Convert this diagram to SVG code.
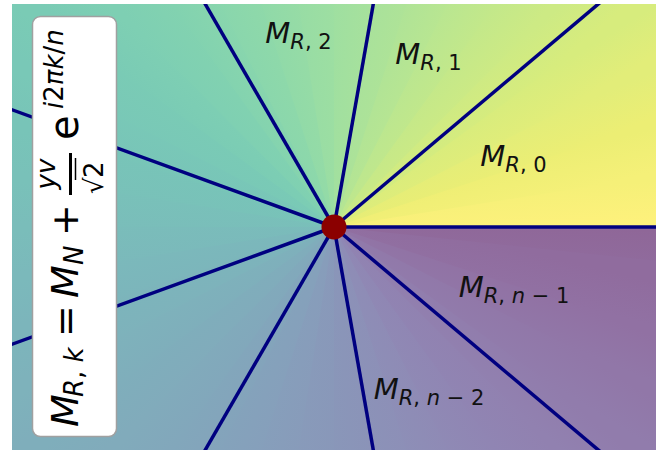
<svg xmlns="http://www.w3.org/2000/svg" width="668" height="450" viewBox="0 0 668 450">
<defs>
<clipPath id="plot"><rect x="12" y="4" width="644" height="446"/></clipPath>
<path id="w" d="M334,227 L934,227 L920.9,102.3 Z"/>
<linearGradient id="g0" gradientUnits="userSpaceOnUse" x1="604" y1="227" x2="600.7" y2="184.8"><stop offset="0" stop-color="#fef17c"/><stop offset="1" stop-color="#f5f078"/></linearGradient>
<linearGradient id="g1" gradientUnits="userSpaceOnUse" x1="604" y1="227" x2="600.7" y2="184.8"><stop offset="0" stop-color="#f5f078"/><stop offset="1" stop-color="#ecee74"/></linearGradient>
<linearGradient id="g2" gradientUnits="userSpaceOnUse" x1="604" y1="227" x2="600.7" y2="184.8"><stop offset="0" stop-color="#ecee74"/><stop offset="1" stop-color="#e2ed79"/></linearGradient>
<linearGradient id="g3" gradientUnits="userSpaceOnUse" x1="604" y1="227" x2="600.7" y2="184.8"><stop offset="0" stop-color="#e2ed79"/><stop offset="1" stop-color="#d7ec7d"/></linearGradient>
<linearGradient id="g4" gradientUnits="userSpaceOnUse" x1="604" y1="227" x2="600.7" y2="184.8"><stop offset="0" stop-color="#d7ec7d"/><stop offset="1" stop-color="#cdea84"/></linearGradient>
<linearGradient id="g5" gradientUnits="userSpaceOnUse" x1="604" y1="227" x2="600.7" y2="184.8"><stop offset="0" stop-color="#cdea84"/><stop offset="1" stop-color="#c3e88a"/></linearGradient>
<linearGradient id="g6" gradientUnits="userSpaceOnUse" x1="604" y1="227" x2="600.7" y2="184.8"><stop offset="0" stop-color="#c3e88a"/><stop offset="1" stop-color="#b9e691"/></linearGradient>
<linearGradient id="g7" gradientUnits="userSpaceOnUse" x1="604" y1="227" x2="600.7" y2="184.8"><stop offset="0" stop-color="#b9e691"/><stop offset="1" stop-color="#afe397"/></linearGradient>
<linearGradient id="g8" gradientUnits="userSpaceOnUse" x1="604" y1="227" x2="600.7" y2="184.8"><stop offset="0" stop-color="#afe397"/><stop offset="1" stop-color="#a7e19c"/></linearGradient>
<linearGradient id="g9" gradientUnits="userSpaceOnUse" x1="604" y1="227" x2="600.7" y2="184.8"><stop offset="0" stop-color="#a7e19c"/><stop offset="1" stop-color="#9edfa1"/></linearGradient>
<linearGradient id="g10" gradientUnits="userSpaceOnUse" x1="604" y1="227" x2="600.7" y2="184.8"><stop offset="0" stop-color="#9edfa1"/><stop offset="1" stop-color="#97dca5"/></linearGradient>
<linearGradient id="g11" gradientUnits="userSpaceOnUse" x1="604" y1="227" x2="600.7" y2="184.8"><stop offset="0" stop-color="#97dca5"/><stop offset="1" stop-color="#8fd9a9"/></linearGradient>
<linearGradient id="g12" gradientUnits="userSpaceOnUse" x1="604" y1="227" x2="600.7" y2="184.8"><stop offset="0" stop-color="#8fd9a9"/><stop offset="1" stop-color="#89d6ad"/></linearGradient>
<linearGradient id="g13" gradientUnits="userSpaceOnUse" x1="604" y1="227" x2="600.7" y2="184.8"><stop offset="0" stop-color="#89d6ad"/><stop offset="1" stop-color="#82d2b0"/></linearGradient>
<linearGradient id="g14" gradientUnits="userSpaceOnUse" x1="604" y1="227" x2="600.7" y2="184.8"><stop offset="0" stop-color="#82d2b0"/><stop offset="1" stop-color="#7ecfb3"/></linearGradient>
<linearGradient id="g15" gradientUnits="userSpaceOnUse" x1="604" y1="227" x2="600.7" y2="184.8"><stop offset="0" stop-color="#7ecfb3"/><stop offset="1" stop-color="#7acbb5"/></linearGradient>
<linearGradient id="g16" gradientUnits="userSpaceOnUse" x1="604" y1="227" x2="600.7" y2="184.8"><stop offset="0" stop-color="#7acbb5"/><stop offset="1" stop-color="#79c8b7"/></linearGradient>
<linearGradient id="g17" gradientUnits="userSpaceOnUse" x1="604" y1="227" x2="600.7" y2="184.8"><stop offset="0" stop-color="#79c8b7"/><stop offset="1" stop-color="#78c4b8"/></linearGradient>
<linearGradient id="g18" gradientUnits="userSpaceOnUse" x1="604" y1="227" x2="600.7" y2="184.8"><stop offset="0" stop-color="#78c4b8"/><stop offset="1" stop-color="#79c1b9"/></linearGradient>
<linearGradient id="g19" gradientUnits="userSpaceOnUse" x1="604" y1="227" x2="600.7" y2="184.8"><stop offset="0" stop-color="#79c1b9"/><stop offset="1" stop-color="#7abdba"/></linearGradient>
<linearGradient id="g20" gradientUnits="userSpaceOnUse" x1="604" y1="227" x2="600.7" y2="184.8"><stop offset="0" stop-color="#7abdba"/><stop offset="1" stop-color="#7bb9bb"/></linearGradient>
<linearGradient id="g21" gradientUnits="userSpaceOnUse" x1="604" y1="227" x2="600.7" y2="184.8"><stop offset="0" stop-color="#7bb9bb"/><stop offset="1" stop-color="#7cb5bb"/></linearGradient>
<linearGradient id="g22" gradientUnits="userSpaceOnUse" x1="604" y1="227" x2="600.7" y2="184.8"><stop offset="0" stop-color="#7cb5bb"/><stop offset="1" stop-color="#7eb2bb"/></linearGradient>
<linearGradient id="g23" gradientUnits="userSpaceOnUse" x1="604" y1="227" x2="600.7" y2="184.8"><stop offset="0" stop-color="#7eb2bb"/><stop offset="1" stop-color="#7faebb"/></linearGradient>
<linearGradient id="g24" gradientUnits="userSpaceOnUse" x1="604" y1="227" x2="600.7" y2="184.8"><stop offset="0" stop-color="#7faebb"/><stop offset="1" stop-color="#81abbb"/></linearGradient>
<linearGradient id="g25" gradientUnits="userSpaceOnUse" x1="604" y1="227" x2="600.7" y2="184.8"><stop offset="0" stop-color="#81abbb"/><stop offset="1" stop-color="#82a7bb"/></linearGradient>
<linearGradient id="g26" gradientUnits="userSpaceOnUse" x1="604" y1="227" x2="600.7" y2="184.8"><stop offset="0" stop-color="#82a7bb"/><stop offset="1" stop-color="#84a3bb"/></linearGradient>
<linearGradient id="g27" gradientUnits="userSpaceOnUse" x1="604" y1="227" x2="600.7" y2="184.8"><stop offset="0" stop-color="#84a3bb"/><stop offset="1" stop-color="#869fbb"/></linearGradient>
<linearGradient id="g28" gradientUnits="userSpaceOnUse" x1="604" y1="227" x2="600.7" y2="184.8"><stop offset="0" stop-color="#869fbb"/><stop offset="1" stop-color="#889bba"/></linearGradient>
<linearGradient id="g29" gradientUnits="userSpaceOnUse" x1="604" y1="227" x2="600.7" y2="184.8"><stop offset="0" stop-color="#889bba"/><stop offset="1" stop-color="#8997b9"/></linearGradient>
<linearGradient id="g30" gradientUnits="userSpaceOnUse" x1="604" y1="227" x2="600.7" y2="184.8"><stop offset="0" stop-color="#8997b9"/><stop offset="1" stop-color="#8b93b8"/></linearGradient>
<linearGradient id="g31" gradientUnits="userSpaceOnUse" x1="604" y1="227" x2="600.7" y2="184.8"><stop offset="0" stop-color="#8b93b8"/><stop offset="1" stop-color="#8d8fb7"/></linearGradient>
<linearGradient id="g32" gradientUnits="userSpaceOnUse" x1="604" y1="227" x2="600.7" y2="184.8"><stop offset="0" stop-color="#8d8fb7"/><stop offset="1" stop-color="#8f8ab5"/></linearGradient>
<linearGradient id="g33" gradientUnits="userSpaceOnUse" x1="604" y1="227" x2="600.7" y2="184.8"><stop offset="0" stop-color="#8f8ab5"/><stop offset="1" stop-color="#9085b3"/></linearGradient>
<linearGradient id="g34" gradientUnits="userSpaceOnUse" x1="604" y1="227" x2="600.7" y2="184.8"><stop offset="0" stop-color="#9085b3"/><stop offset="1" stop-color="#9181b0"/></linearGradient>
<linearGradient id="g35" gradientUnits="userSpaceOnUse" x1="604" y1="227" x2="600.7" y2="184.8"><stop offset="0" stop-color="#9181b0"/><stop offset="1" stop-color="#917cac"/></linearGradient>
<linearGradient id="g36" gradientUnits="userSpaceOnUse" x1="604" y1="227" x2="600.7" y2="184.8"><stop offset="0" stop-color="#917cac"/><stop offset="1" stop-color="#9177a8"/></linearGradient>
<linearGradient id="g37" gradientUnits="userSpaceOnUse" x1="604" y1="227" x2="600.7" y2="184.8"><stop offset="0" stop-color="#9177a8"/><stop offset="1" stop-color="#9171a3"/></linearGradient>
<linearGradient id="g38" gradientUnits="userSpaceOnUse" x1="604" y1="227" x2="600.7" y2="184.8"><stop offset="0" stop-color="#9171a3"/><stop offset="1" stop-color="#906c9e"/></linearGradient>
<linearGradient id="g39" gradientUnits="userSpaceOnUse" x1="604" y1="227" x2="600.7" y2="184.8"><stop offset="0" stop-color="#906c9e"/><stop offset="1" stop-color="#8f6798"/></linearGradient>
</defs>
<style>
.ray{stroke:#000080;stroke-width:3.5;fill:none}
.lbl{font-family:"DejaVu Sans",sans-serif;font-size:29px;fill:#111}
.it{font-style:italic}
.sub{font-size:21px}
.fx{font-family:"DejaVu Sans",sans-serif;fill:#000}
</style>
<rect width="668" height="450" fill="#fff"/>
<g id="field" clip-path="url(#plot)">
<use href="#w" fill="url(#g39)" transform="rotate(-351 334 227)"/>
<use href="#w" fill="url(#g0)"/>
<use href="#w" fill="url(#g1)" transform="rotate(-9 334 227)"/>
<use href="#w" fill="url(#g2)" transform="rotate(-18 334 227)"/>
<use href="#w" fill="url(#g3)" transform="rotate(-27 334 227)"/>
<use href="#w" fill="url(#g4)" transform="rotate(-36 334 227)"/>
<use href="#w" fill="url(#g5)" transform="rotate(-45 334 227)"/>
<use href="#w" fill="url(#g6)" transform="rotate(-54 334 227)"/>
<use href="#w" fill="url(#g7)" transform="rotate(-63 334 227)"/>
<use href="#w" fill="url(#g8)" transform="rotate(-72 334 227)"/>
<use href="#w" fill="url(#g9)" transform="rotate(-81 334 227)"/>
<use href="#w" fill="url(#g10)" transform="rotate(-90 334 227)"/>
<use href="#w" fill="url(#g11)" transform="rotate(-99 334 227)"/>
<use href="#w" fill="url(#g12)" transform="rotate(-108 334 227)"/>
<use href="#w" fill="url(#g13)" transform="rotate(-117 334 227)"/>
<use href="#w" fill="url(#g14)" transform="rotate(-126 334 227)"/>
<use href="#w" fill="url(#g15)" transform="rotate(-135 334 227)"/>
<use href="#w" fill="url(#g16)" transform="rotate(-144 334 227)"/>
<use href="#w" fill="url(#g17)" transform="rotate(-153 334 227)"/>
<use href="#w" fill="url(#g18)" transform="rotate(-162 334 227)"/>
<use href="#w" fill="url(#g19)" transform="rotate(-171 334 227)"/>
<use href="#w" fill="url(#g20)" transform="rotate(-180 334 227)"/>
<use href="#w" fill="url(#g21)" transform="rotate(-189 334 227)"/>
<use href="#w" fill="url(#g22)" transform="rotate(-198 334 227)"/>
<use href="#w" fill="url(#g23)" transform="rotate(-207 334 227)"/>
<use href="#w" fill="url(#g24)" transform="rotate(-216 334 227)"/>
<use href="#w" fill="url(#g25)" transform="rotate(-225 334 227)"/>
<use href="#w" fill="url(#g26)" transform="rotate(-234 334 227)"/>
<use href="#w" fill="url(#g27)" transform="rotate(-243 334 227)"/>
<use href="#w" fill="url(#g28)" transform="rotate(-252 334 227)"/>
<use href="#w" fill="url(#g29)" transform="rotate(-261 334 227)"/>
<use href="#w" fill="url(#g30)" transform="rotate(-270 334 227)"/>
<use href="#w" fill="url(#g31)" transform="rotate(-279 334 227)"/>
<use href="#w" fill="url(#g32)" transform="rotate(-288 334 227)"/>
<use href="#w" fill="url(#g33)" transform="rotate(-297 334 227)"/>
<use href="#w" fill="url(#g34)" transform="rotate(-306 334 227)"/>
<use href="#w" fill="url(#g35)" transform="rotate(-315 334 227)"/>
<use href="#w" fill="url(#g36)" transform="rotate(-324 334 227)"/>
<use href="#w" fill="url(#g37)" transform="rotate(-333 334 227)"/>
<use href="#w" fill="url(#g38)" transform="rotate(-342 334 227)"/>
</g>
<g id="connectors" clip-path="url(#plot)">
<line class="ray" x1="334" y1="227" x2="660" y2="227"/>
<line class="ray" x1="334" y1="227" x2="603.1" y2="0"/>
<line class="ray" x1="334" y1="227" x2="374" y2="0"/>
<line class="ray" x1="334" y1="227" x2="202.9" y2="0"/>
<line class="ray" x1="334" y1="227" x2="8" y2="108.3"/>
<line class="ray" x1="334" y1="227" x2="8" y2="345.7"/>
<line class="ray" x1="334" y1="227" x2="202.9" y2="454"/>
<line class="ray" x1="334" y1="227" x2="374" y2="454"/>
<line class="ray" x1="334" y1="227" x2="603.1" y2="454"/>
</g>
<g id="center"><circle cx="334" cy="227" r="12.5" fill="#8b0000"/></g>
<g id="label-R0"><text class="lbl" x="513.5" y="165.5" text-anchor="middle"><tspan class="it">M</tspan><tspan class="sub" dy="6"><tspan class="it">R</tspan>, 0</tspan></text></g>
<g id="label-R1"><text class="lbl" x="428.5" y="64" text-anchor="middle"><tspan class="it">M</tspan><tspan class="sub" dy="6"><tspan class="it">R</tspan>, 1</tspan></text></g>
<g id="label-R2"><text class="lbl" x="298.5" y="43" text-anchor="middle"><tspan class="it">M</tspan><tspan class="sub" dy="6"><tspan class="it">R</tspan>, 2</tspan></text></g>
<g id="label-Rn1"><text class="lbl" x="514" y="297" text-anchor="middle"><tspan class="it">M</tspan><tspan class="sub" dy="6"><tspan class="it">R</tspan>, <tspan class="it">n</tspan> − 1</tspan></text></g>
<g id="label-Rn2"><text class="lbl" x="429" y="399" text-anchor="middle"><tspan class="it">M</tspan><tspan class="sub" dy="6"><tspan class="it">R</tspan>, <tspan class="it">n</tspan> − 2</tspan></text></g>
<g id="formula">
<rect x="32.5" y="16.5" width="84" height="420" rx="8" fill="#fff" stroke="#a0a0a0" stroke-width="1.5"/>
<g class="fx" transform="translate(78,425) rotate(-90)">
<text x="-2" y="0" font-size="38" font-style="italic">M</text>
<text x="28" y="5" font-size="26"><tspan font-style="italic">R</tspan>, <tspan font-style="italic">k</tspan></text>
<text x="88" y="0" font-size="38">=</text>
<text x="127" y="0" font-size="38" font-style="italic">M</text>
<text x="160" y="5" font-size="26" font-style="italic">N</text>
<text x="189" y="0" font-size="38">+</text>
<text x="251" y="-23" font-size="26" font-style="italic" text-anchor="middle">yv</text>
<rect x="230" y="-9" width="42" height="3"/>
<text x="231" y="25" font-size="26">√</text>
<line x1="245" y1="-2.5" x2="267" y2="-2.5" stroke="#000" stroke-width="1.5"/>
<text x="247" y="25" font-size="26">2</text>
<text x="285" y="0" font-size="40">e</text>
<text x="316" y="-15" font-size="26"><tspan font-style="italic">i</tspan>2<tspan font-style="italic">πk</tspan>/<tspan font-style="italic">n</tspan></text>
</g>
</g>
</svg>
